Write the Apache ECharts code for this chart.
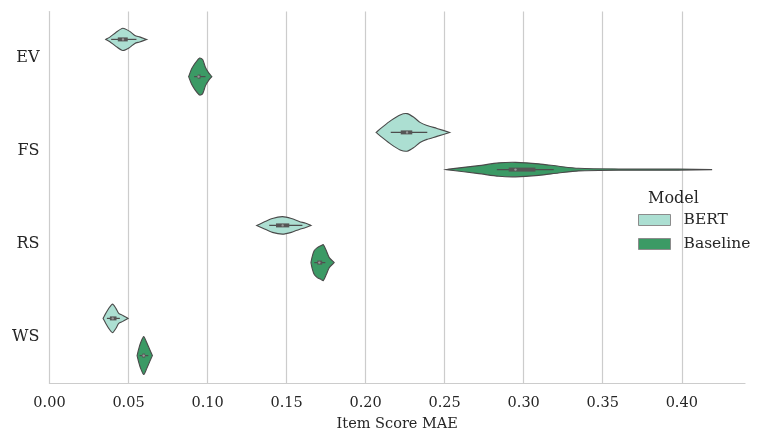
<!DOCTYPE html>
<html>
<head>
<meta charset="utf-8">
<script src="https://cdn.jsdelivr.net/npm/echarts@6/dist/echarts.min.js"></script>
<style>
html, body { margin: 0; padding: 0; background: #fff; }
#chart { width: 765px; height: 442px; }
</style>
</head>
<body>
<div id="chart"></div>
<script>
var categories = ['EV', 'FS', 'RS', 'WS'];
var models = ['BERT', 'Baseline'];
var modelColors = ['#acdfd2', '#3b9a65'];

// violin outlines: score values and half widths (in category bands)
var bertX = [
    [0.0356, 0.038, 0.042, 0.0464, 0.0508, 0.054, 0.057, 0.0615],
    [0.2066, 0.2104, 0.2161, 0.2218, 0.2262, 0.2306, 0.2344, 0.2388, 0.2451, 0.2531],
    [0.1311, 0.136, 0.141, 0.1473, 0.153, 0.158, 0.1621, 0.1654],
    [0.0339, 0.0356, 0.0375, 0.0399, 0.042, 0.0438, 0.0464, 0.0497]
];
var bertW = [
    [0, 0.022, 0.075, 0.12, 0.086, 0.043, 0.027, 0],
    [0, 0.054, 0.129, 0.188, 0.202, 0.161, 0.108, 0.075, 0.043, 0],
    [0, 0.038, 0.075, 0.094, 0.075, 0.043, 0.022, 0],
    [0, 0.054, 0.108, 0.153, 0.108, 0.054, 0.032, 0]
];
var baseX = [
    [0.088, 0.090, 0.0924, 0.095, 0.0969, 0.0987, 0.1006, 0.1027],
    [0.251, 0.2527, 0.2716, 0.2842, 0.2949, 0.3095, 0.3221, 0.3347, 0.36, 0.3978, 0.4192],
    [0.1654, 0.1662, 0.1675, 0.1694, 0.1719, 0.1732, 0.1751, 0.177, 0.1801],
    [0.0554, 0.0565, 0.0577, 0.0596, 0.0615, 0.0634, 0.0651]
];
var baseW = [
    [0, 0.086, 0.15, 0.199, 0.183, 0.097, 0.043, 0],
    [0, 0.005, 0.043, 0.072, 0.078, 0.062, 0.036, 0.014, 0.007, 0.007, 0],
    [0, 0.065, 0.129, 0.161, 0.183, 0.194, 0.129, 0.054, 0],
    [0, 0.075, 0.14, 0.204, 0.14, 0.065, 0]
];
// inner box: whisker low, q1, median, q3, whisker high
var bertBox = [
    [0.039, 0.0432, 0.0465, 0.0495, 0.055],
    [0.2159, 0.2222, 0.2262, 0.2295, 0.239],
    [0.139, 0.1433, 0.1475, 0.1517, 0.160],
    [0.0363, 0.0382, 0.040, 0.0424, 0.0445]
];
var baseBox = [
    [0.0915, 0.0937, 0.0943, 0.0956, 0.0987],
    [0.283, 0.2905, 0.2948, 0.3074, 0.319],
    [0.1675, 0.1694, 0.1707, 0.1725, 0.1745],
    [0.057, 0.0587, 0.0596, 0.0605, 0.0625]
];
var xTicks = [0, 0.05, 0.10, 0.15, 0.20, 0.25, 0.30, 0.35, 0.40];

var outlines = [[bertX, bertW, bertBox], [baseX, baseW, baseBox]];
var FONT = 'DejaVu Serif';

function renderViolin(params, api) {
    var m = params.seriesIndex;
    var ci = api.value(1);
    var xs = outlines[m][0][ci], ws = outlines[m][1][ci], box = outlines[m][2][ci];
    var band = api.size([0, 1])[1];
    var cy = api.coord([0, ci])[1] + (m === 0 ? -0.2 : 0.2) * band;
    var top = [], bottom = [];
    for (var i = 0; i < xs.length; i++) {
        var px = api.coord([xs[i], ci])[0];
        top.push([px, cy - ws[i] * band]);
        bottom.unshift([px, cy + ws[i] * band]);
    }
    var xb = box.map(function (v) { return api.coord([v, ci])[0]; });
    return {
        type: 'group',
        children: [
            {
                type: 'polygon',
                shape: { points: top.concat(bottom), smooth: 0.25 },
                style: { fill: modelColors[m], stroke: '#4a4a4a', lineWidth: 1.1 }
            },
            {
                type: 'line',
                shape: { x1: xb[0], y1: cy, x2: xb[4], y2: cy },
                style: { stroke: '#4d4d4d', lineWidth: 1.2 }
            },
            {
                type: 'rect',
                shape: { x: xb[1], y: cy - 2, width: xb[3] - xb[1], height: 4 },
                style: { fill: '#555555' }
            },
            {
                type: 'circle',
                shape: { cx: xb[2], cy: cy, r: 1.2 },
                style: { fill: '#9a9a9a' }
            }
        ]
    };
}

var chart = echarts.init(document.getElementById('chart'));
var option = {
    animation: false,
    textStyle: { fontFamily: FONT },
    title: {
        text: 'Model',
        left: 643, top: 186,
        textStyle: { fontFamily: FONT, fontSize: 16, fontWeight: 'normal', color: '#262626' }
    },
    legend: {
        orient: 'vertical',
        left: 633, top: 207,
        itemWidth: 32, itemHeight: 11, itemGap: 8,
        icon: 'rect',
        data: models,
        itemStyle: { borderColor: '#8c8c8c', borderWidth: 1 },
        textStyle: { fontFamily: FONT, fontSize: 15.5, color: '#262626', padding: [0, 0, 0, 8] }
    },
    grid: { left: 49.5, right: 20, top: 11.5, bottom: 58.5, containLabel: false },
    xAxis: {
        type: 'value',
        min: 0, max: 0.44, interval: 0.05,
        name: 'Item Score MAE',
        nameLocation: 'middle', nameGap: 33,
        nameTextStyle: { fontFamily: FONT, fontSize: 14.5, color: '#262626' },
        axisLine: { show: true, lineStyle: { color: '#cccccc', width: 1.2 } },
        axisTick: { show: false },
        axisLabel: {
            fontFamily: FONT, fontSize: 14.5, color: '#262626', margin: 12,
            showMaxLabel: false,
            formatter: function (v) {
                return xTicks.some(function (t) { return Math.abs(t - v) < 1e-9; }) ? v.toFixed(2) : '';
            }
        },
        splitLine: { show: true, showMinLine: false, showMaxLine: false, lineStyle: { color: '#cccccc', width: 1.2 } }
    },
    yAxis: {
        type: 'category',
        data: categories,
        inverse: true,
        axisLine: { show: true, lineStyle: { color: '#cccccc', width: 1.2 } },
        axisTick: { show: false },
        axisLabel: { fontFamily: FONT, fontSize: 16, color: '#262626', margin: 10 },
        splitLine: { show: false }
    },
    series: models.map(function (name, m) {
        var boxes = outlines[m][2];
        return {
            name: name,
            type: 'custom',
            renderItem: renderViolin,
            itemStyle: { color: modelColors[m], borderColor: '#8c8c8c', borderWidth: 1 },
            encode: { x: 0, y: 1 },
            data: categories.map(function (c, ci) { return [boxes[ci][2], ci]; }),
            z: 3
        };
    })
};
chart.setOption(option);
</script>
</body>
</html>
